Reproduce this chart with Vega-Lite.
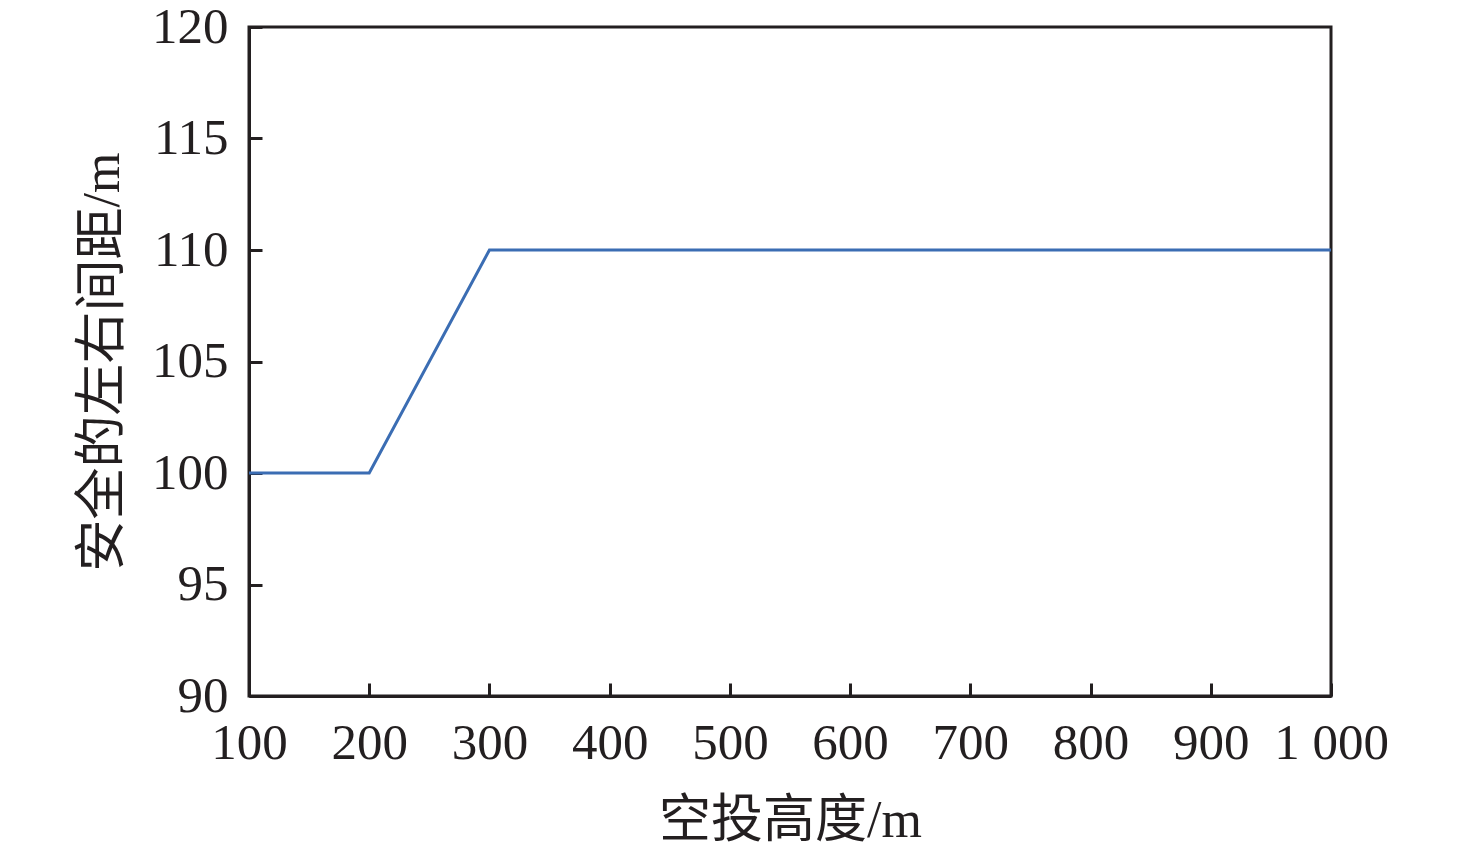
{
  "$schema": "https://vega.github.io/schema/vega-lite/v6.json",
  "width": 1082,
  "height": 669,
  "autosize": {"type": "none"},
  "padding": {"left": 249, "top": 27, "right": 145, "bottom": 158},
  "background": "white",
  "config": {
    "view": {"stroke": "#231f20", "strokeWidth": 3},
    "font": "Liberation Serif",
    "axis": {
      "domainColor": "#231f20",
      "domainWidth": 3,
      "tickColor": "#231f20",
      "tickWidth": 3,
      "tickSize": -13,
      "grid": false,
      "labelFont": "Liberation Serif",
      "labelFontSize": 51,
      "labelColor": "#231f20",
      "titleFont": "Liberation Serif, Noto Sans CJK SC",
      "titleFontSize": 52,
      "titleFontWeight": "normal",
      "titleColor": "#231f20"
    }
  },
  "data": {
    "values": [
      {"h": 100, "d": 100},
      {"h": 200, "d": 100},
      {"h": 300, "d": 110},
      {"h": 1000, "d": 110}
    ]
  },
  "mark": {"type": "line", "color": "#3b6db3", "strokeWidth": 3},
  "encoding": {
    "x": {
      "field": "h",
      "type": "quantitative",
      "scale": {"domain": [100, 1000], "nice": false, "zero": false},
      "axis": {
        "title": "空投高度/m",
        "values": [100, 200, 300, 400, 500, 600, 700, 800, 900, 1000],
        "labelExpr": "datum.value == 1000 ? '1 000' : datum.label",
        "labelPadding": 35,
        "titlePadding": 27,
        "labelFlush": false,
        "labelOverlap": false
      }
    },
    "y": {
      "field": "d",
      "type": "quantitative",
      "scale": {"domain": [90, 120], "nice": false, "zero": false},
      "axis": {
        "title": "安全的左右间距/m",
        "values": [90, 95, 100, 105, 110, 115, 120],
        "labelPadding": 34,
        "titlePadding": 22,
        "labelFlush": false,
        "labelOverlap": false
      }
    }
  }
}
